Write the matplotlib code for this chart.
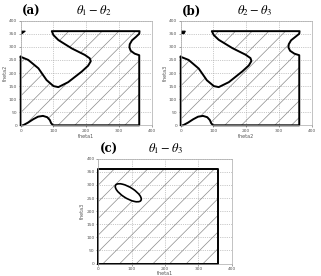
import matplotlib
matplotlib.use("Agg")
import matplotlib.pyplot as plt
from matplotlib.patches import Polygon, Ellipse

plt.rcParams['mathtext.fontset'] = 'stix'
plt.rcParams['hatch.linewidth'] = 0.5
plt.rcParams['hatch.color'] = '#8a8a8a'

# panel (a): boundary of the feasible region (theta1 - theta2)
a_mid_x = [0, 23, 54, 79, 100, 115, 145, 186, 206, 214, 211, 196, 156, 115, 100, 95]
a_mid_y = [262, 250, 218, 173, 150, 146, 165, 205, 228, 245, 256, 269, 294, 326, 345, 360]
a_right_x = [95, 363, 362, 352, 340, 333, 332, 336, 348, 362, 362, 99]
a_right_y = [360, 360, 350, 338, 325, 310, 298, 285, 274, 268, 0, 0]
a_bump_x = [99, 93, 89, 81, 68, 53, 38, 22, 7, 0, 0]
a_bump_y = [0, 8, 20, 31, 36, 33, 23, 10, 0, 0, 262]
a_tri_x = [0, 14, 0]
a_tri_y = [360, 360, 347]

# panel (b): theta2 - theta3
b_mid_x = [0, 24, 55, 80, 101, 116, 147, 188, 208, 216, 213, 198, 158, 116, 101, 95]
b_mid_y = [262, 250, 217, 172, 150, 146, 165, 206, 229, 246, 257, 270, 295, 327, 345, 360]
b_right_x = [95, 363, 362, 350, 337, 330, 329, 334, 347, 362, 362, 99]
b_right_y = [360, 360, 350, 338, 325, 310, 298, 285, 274, 268, 0, 0]
b_bump_x = [99, 93, 89, 81, 68, 53, 38, 22, 7, 0, 0]
b_bump_y = [0, 8, 20, 31, 36, 33, 23, 10, 0, 0, 262]
b_tri_x = [0, 14, 10, 0]
b_tri_y = [360, 360, 350, 352]

# panel (c): theta1 - theta3, box with an excluded ellipse
c_box_x = [0, 360, 360, 0, 0]
c_box_y = [0, 0, 360, 360, 0]
c_ell_center = (90, 270)
c_ell_width = 96
c_ell_height = 40
c_ell_angle = -40

xticks = [0, 100, 200, 300, 400]
yticks = [0, 50, 100, 150, 200, 250, 300, 350, 400]

fig = plt.figure(figsize=(3.21, 2.76), dpi=100)


def style_axes(ax, xlab, ylab, xpad=1):
    ax.set_xlim(0, 400)
    ax.set_ylim(0, 400)
    ax.set_xticks(xticks)
    ax.set_yticks(yticks)
    ax.tick_params(labelsize=3.2, colors='#555555', length=1.5, width=0.4, pad=1)
    ax.grid(True, linestyle=':', color='#999999', linewidth=0.5)
    ax.set_axisbelow(True)
    for s in ax.spines.values():
        s.set_color('#aaaaaa')
        s.set_linewidth(0.5)
    ax.set_xlabel(xlab, fontsize=3.5, color='#555555', labelpad=xpad)
    ax.set_ylabel(ylab, fontsize=3.5, color='#555555', labelpad=1)


def region_panel(ax, mid_x, mid_y, right_x, right_y, bump_x, bump_y, tri_x, tri_y):
    px = mid_x + right_x + bump_x
    py = mid_y + right_y + bump_y
    ax.add_patch(Polygon(list(zip(px, py)), closed=True, facecolor='none',
                         edgecolor='#8a8a8a', linewidth=0, hatch='//'))
    ax.plot(px, py, color='black', lw=1.4, solid_joinstyle='round', clip_on=False)
    ax.fill(tri_x, tri_y, color='black', lw=0.8, edgecolor='black')


def heading(ax, label, title, tx):
    ax.text(0.01, 1.025, label, transform=ax.transAxes, fontsize=8.5,
            fontweight='bold', family='DejaVu Serif', ha='left', va='bottom')
    ax.text(tx, 1.03, title, transform=ax.transAxes, fontsize=9,
            ha='center', va='bottom')


ax1 = fig.add_axes([0.0645, 0.546, 0.408, 0.379])
style_axes(ax1, 'theta1', 'theta2')
region_panel(ax1, a_mid_x, a_mid_y, a_right_x, a_right_y, a_bump_x, a_bump_y, a_tri_x, a_tri_y)
heading(ax1, '(a)', r'$\theta_1-\theta_2$', 0.56)

ax2 = fig.add_axes([0.563, 0.546, 0.408, 0.379])
style_axes(ax2, 'theta2', 'theta3')
region_panel(ax2, b_mid_x, b_mid_y, b_right_x, b_right_y, b_bump_x, b_bump_y, b_tri_x, b_tri_y)
heading(ax2, '(b)', r'$\theta_2-\theta_3$', 0.56)

ax3 = fig.add_axes([0.306, 0.045, 0.416, 0.38])
style_axes(ax3, 'theta1', 'theta3', xpad=0)
ax3.add_patch(Polygon(list(zip(c_box_x, c_box_y)), closed=True, facecolor='none',
                      edgecolor='#8a8a8a', linewidth=0, hatch='//'))
ax3.plot(c_box_x, c_box_y, color='black', lw=1.4, clip_on=False)
ax3.add_patch(Ellipse(c_ell_center, c_ell_width, c_ell_height, angle=c_ell_angle,
                      facecolor='white', edgecolor='black', lw=1.2, zorder=3))
heading(ax3, '(c)', r'$\theta_1-\theta_3$', 0.5)

fig.savefig('out.png', dpi=100)
